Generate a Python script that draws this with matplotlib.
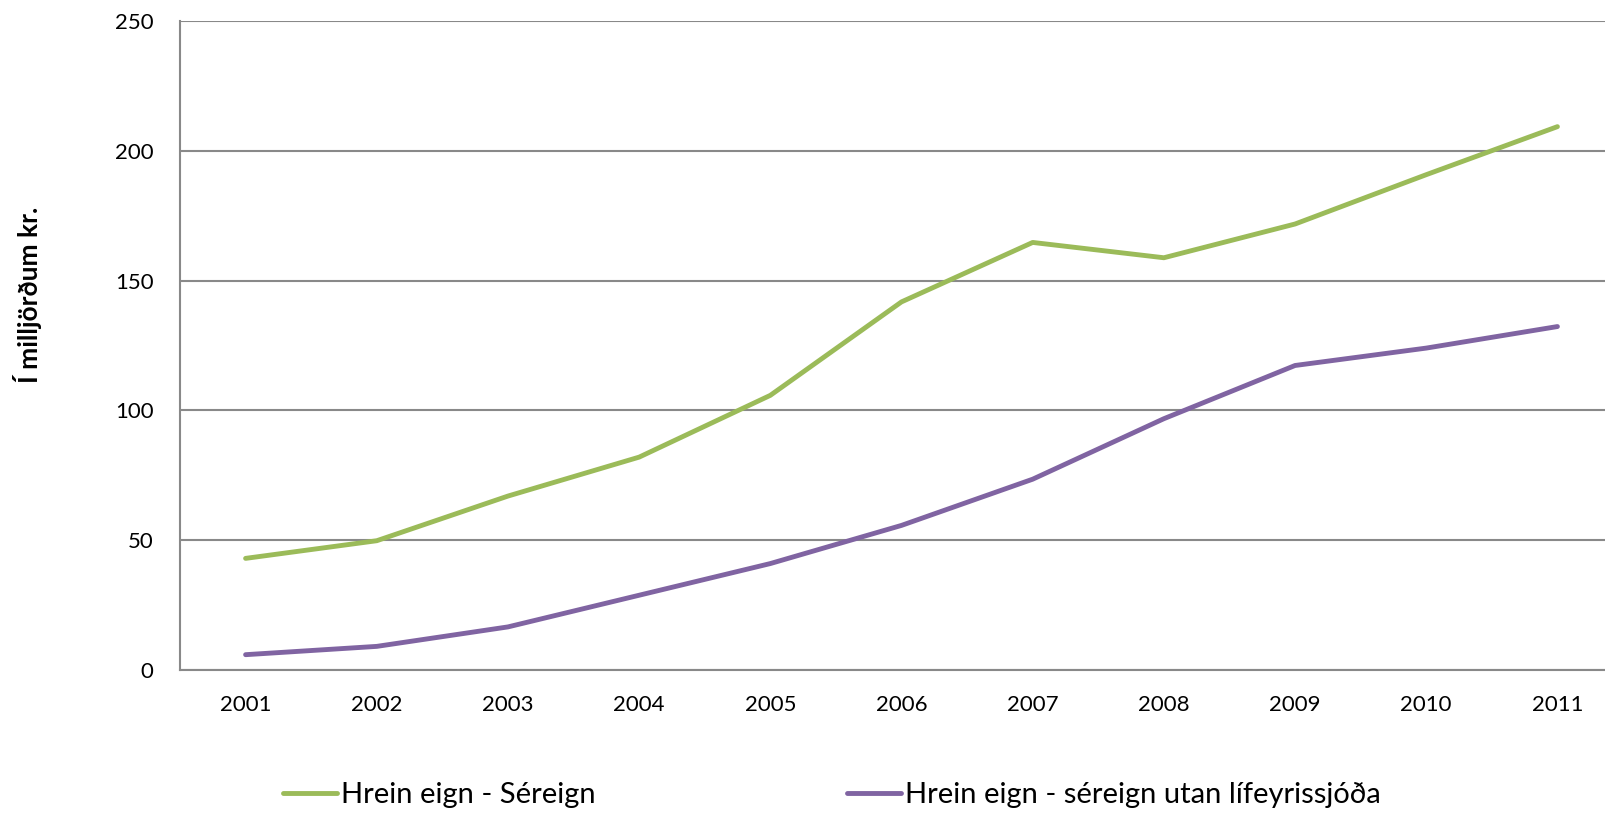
import matplotlib
matplotlib.use("Agg")
import matplotlib.pyplot as plt

years = ["2001", "2002", "2003", "2004", "2005", "2006", "2007", "2008", "2009", "2010", "2011"]
sereign = [43, 49.8, 67, 82, 105.8, 141.8, 164.7, 158.8, 171.8, 190.8, 209.3]
utan_lif = [5.9, 9.1, 16.6, 28.8, 41, 55.7, 73.5, 96.8, 117.3, 124, 132.3]
labels = ["Hrein eign - Séreign", "Hrein eign - séreign utan lífeyrissjóða"]
yticks = [0, 50, 100, 150, 200, 250]

plt.rcParams['font.family'] = ['Lato', 'DejaVu Sans']

W, H = 1606, 813
fig = plt.figure(figsize=(W / 100, H / 100), dpi=100)
# plot area runs a bit past the right edge, like the cropped original
ax = fig.add_axes([180 / W, 143 / H, 1443 / W, 649 / H])

x = list(range(len(years)))
ax.plot(x, sereign, color="#9BBB59", lw=3.5, solid_capstyle="round", label=labels[0])
ax.plot(x, utan_lif, color="#8064A2", lw=3.5, solid_capstyle="round", label=labels[1])

ax.set_xlim(-0.5, len(years) - 0.5)
ax.set_ylim(0, 250)
ax.set_xticks(x)
ax.set_xticklabels(years)
ax.set_yticks(yticks)
ax.tick_params(length=0, labelsize=16)
ax.tick_params(axis="x", pad=18)
ax.tick_params(axis="y", pad=19)
ax.yaxis.grid(True, color="#898989", lw=1.5)
ax.set_axisbelow(True)
for side in ["top", "right"]:
    ax.spines[side].set_visible(False)
for side in ["left", "bottom"]:
    ax.spines[side].set_color("#898989")
    ax.spines[side].set_linewidth(1.5)

fig.text(28 / W, 1 - 295 / H, "Í milljörðum kr.", rotation=90, fontsize=19,
         fontweight="bold", ha="center", va="center")

fig.legend(loc="center left", bbox_to_anchor=(283 / W, 1 - 795 / H), ncol=2,
           frameon=False, fontsize=21, handlelength=1.85, handletextpad=0.15,
           columnspacing=8.6, borderpad=0, borderaxespad=0)

fig.savefig("out.png", dpi=100)
